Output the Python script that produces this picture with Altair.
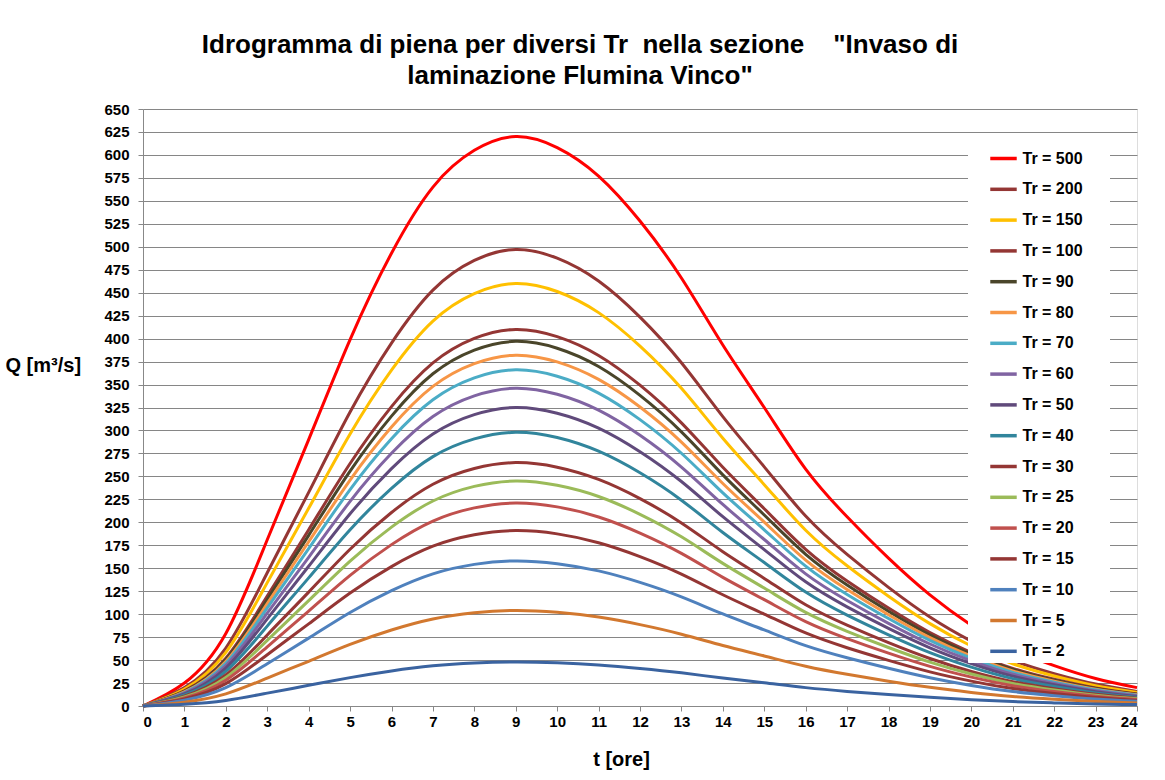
import altair as alt
import pandas as pd

hours = list(range(25))

labels = ["Tr = 500", "Tr = 200", "Tr = 150", "Tr = 100", "Tr = 90", "Tr = 80",
          "Tr = 70", "Tr = 60", "Tr = 50", "Tr = 40", "Tr = 30", "Tr = 25",
          "Tr = 20", "Tr = 15", "Tr = 10", "Tr = 5", "Tr = 2"]

colors = ["#FF0000", "#943634", "#FFC000", "#943634", "#4A452A", "#F79646",
          "#4BACC6", "#8064A2", "#604A7B", "#31859C", "#943634", "#9BBB59",
          "#C0504D", "#943634", "#4F81BD", "#D2782F", "#3A63A0"]

q_500 = [0, 25, 79, 181, 290, 399, 493, 565, 605, 620, 608, 577, 528, 466, 393, 325, 258, 206, 161, 121, 88, 62, 44, 30, 20]
q_200 = [0, 20.0, 63.1, 145.1, 232.6, 320.1, 395.1, 452.8, 485.1, 497, 487.6, 462.7, 423.4, 373.7, 315.1, 260.4, 206.8, 165.0, 129.2, 96.9, 70.6, 49.7, 35.3, 23.9, 15.9]
q_150 = [0, 18.5, 58.4, 134.3, 215.3, 296.2, 365.7, 419.1, 449.0, 460, 451.3, 428.3, 391.9, 345.9, 291.6, 241.0, 191.4, 152.7, 119.6, 89.7, 65.3, 46.0, 32.7, 22.1, 14.7]
q_100 = [0, 16.5, 52.1, 119.7, 191.9, 264.0, 326.0, 373.5, 400.2, 410, 402.2, 381.7, 349.3, 308.3, 259.9, 214.8, 170.6, 136.1, 106.6, 80.0, 58.2, 41.0, 29.1, 19.7, 13.1]
q_90 = [0, 16.0, 50.4, 115.9, 185.8, 255.7, 315.6, 361.7, 387.5, 397, 389.5, 369.6, 338.2, 298.5, 251.7, 208.0, 165.2, 131.8, 103.2, 77.4, 56.4, 39.7, 28.2, 19.1, 12.7]
q_80 = [0, 15.4, 48.5, 111.5, 178.8, 246.0, 303.7, 348.0, 372.8, 382, 374.7, 355.6, 325.5, 287.3, 242.2, 200.2, 158.9, 126.8, 99.3, 74.5, 54.2, 38.2, 27.1, 18.3, 12.2]
q_70 = [0, 14.7, 46.5, 106.9, 171.3, 235.7, 291.0, 333.4, 357.2, 366, 359.0, 340.7, 311.8, 275.2, 232.0, 191.8, 152.3, 121.5, 95.2, 71.4, 52.0, 36.6, 26.0, 17.6, 11.7]
q_60 = [0, 13.9, 43.9, 101.0, 161.9, 222.8, 275.1, 315.2, 337.7, 346, 339.4, 322.1, 294.8, 260.2, 219.4, 181.3, 143.9, 114.9, 90.0, 67.5, 49.1, 34.6, 24.6, 16.6, 11.1]
q_50 = [0, 13.1, 41.3, 94.9, 152.1, 209.3, 258.4, 296.1, 317.2, 325, 318.8, 302.6, 276.9, 244.4, 206.1, 170.3, 135.2, 107.9, 84.5, 63.4, 46.2, 32.5, 23.1, 15.6, 10.4]
q_40 = [0, 12.0, 37.8, 87.0, 139.5, 191.9, 236.9, 271.5, 290.8, 298, 292.3, 277.4, 253.9, 224.1, 188.9, 156.2, 124.0, 98.9, 77.5, 58.1, 42.3, 29.8, 21.2, 14.3, 9.5]
q_30 = [0, 10.7, 33.7, 77.4, 124.0, 170.7, 210.7, 241.4, 258.6, 265, 260.0, 246.7, 225.8, 199.3, 168.0, 138.9, 110.2, 88.0, 68.9, 51.7, 37.6, 26.5, 18.8, 12.7, 8.5]
q_25 = [0, 9.9, 31.1, 71.5, 114.7, 157.8, 194.8, 223.2, 239.1, 245, 240.3, 228.1, 208.7, 184.2, 155.3, 128.4, 101.9, 81.3, 63.7, 47.8, 34.8, 24.5, 17.4, 11.8, 7.8]
q_20 = [0, 8.9, 28.1, 64.5, 103.4, 142.3, 175.7, 201.3, 215.7, 221, 216.8, 205.8, 188.3, 166.2, 140.1, 115.8, 91.9, 73.4, 57.5, 43.1, 31.4, 22.1, 15.7, 10.6, 7.1]
q_15 = [0, 7.7, 24.3, 55.8, 89.4, 123.0, 151.8, 174.0, 186.4, 191, 187.4, 177.8, 162.7, 143.6, 121.1, 100.1, 79.5, 63.4, 49.7, 37.2, 27.1, 19.1, 13.6, 9.2, 6.1]
q_10 = [0, 6.4, 20.1, 46.1, 73.9, 101.8, 125.6, 143.9, 154.2, 158, 155.0, 147.1, 134.6, 118.8, 100.2, 82.8, 65.7, 52.5, 41.1, 30.8, 22.4, 15.8, 11.2, 7.6, 5.1]
q_5 = [0, 4.2, 13.2, 30.4, 48.7, 67.0, 82.7, 94.7, 101.5, 104, 102.0, 96.8, 88.6, 78.2, 65.9, 54.5, 43.3, 34.5, 27.0, 20.3, 14.8, 10.4, 7.4, 5.0, 3.3]
q_2 = [0, 1.9, 6.1, 14.0, 22.5, 30.9, 38.2, 43.7, 46.8, 48, 47.1, 44.7, 40.9, 36.1, 30.4, 25.2, 20.0, 15.9, 12.5, 9.4, 6.8, 4.8, 3.4, 2.3, 1.5]

series = [q_500, q_200, q_150, q_100, q_90, q_80, q_70, q_60, q_50, q_40,
          q_30, q_25, q_20, q_15, q_10, q_5, q_2]

rows = []
for k, (lab, vals) in enumerate(zip(labels, series)):
    for t, q in zip(hours, vals):
        rows.append({"serie": lab, "t": t, "Q": q, "ord": k})
df = pd.DataFrame(rows)

FONT = "Liberation Sans"
NB = "\u00a0"

title_lines = [
    "Idrogramma di piena per diversi Tr" + NB * 2 + "nella sezione" + NB * 4 + "\"Invaso di",
    "laminazione Flumina Vinco\"",
]

chart = alt.Chart(df).mark_line(interpolate="natural", strokeWidth=3).encode(
    x=alt.X("t:Q",
            scale=alt.Scale(domain=[0, 24], nice=False, zero=False),
            axis=alt.Axis(values=hours, title="t [ore]", grid=False,
                          labelFontSize=15, labelFontWeight="bold", labelFont=FONT,
                          labelColor="black", labelPadding=3, tickSize=5,
                          titleFontSize=20, titleFontWeight="bold", titleFont=FONT,
                          titleColor="black", titlePadding=20, titleX=478)),
    y=alt.Y("Q:Q",
            scale=alt.Scale(domain=[0, 650], nice=False),
            axis=alt.Axis(values=list(range(0, 651, 25)), title="Q [m³/s]",
                          grid=True, gridColor="#868686", gridWidth=1,
                          labelFontSize=15, labelFontWeight="bold", labelFont=FONT,
                          labelColor="black", labelPadding=9, tickSize=5,
                          titleAngle=0, titleAlign="left", titleBaseline="middle",
                          titleX=-138, titleY=256,
                          titleFontSize=20, titleFontWeight="bold", titleFont=FONT,
                          titleColor="black")),
    color=alt.Color("serie:N",
                    scale=alt.Scale(domain=labels, range=colors),
                    legend=alt.Legend(title=NB, titleOrient="right", titlePadding=24,
                                      titleFontSize=8,
                                      orient="none", legendX=825, legendY=32,
                                      fillColor="#FFFFFF", strokeColor="#FFFFFF",
                                      zindex=5, padding=2.5,
                                      symbolType="stroke", symbolSize=700,
                                      symbolStrokeWidth=3.5, symbolOffset=18,
                                      rowPadding=7.8,
                                      labelFontSize=16, labelFontWeight="bold",
                                      labelFont=FONT, labelColor="black", labelOffset=4)),
    order=alt.Order("ord:Q", sort="descending"),
).properties(
    width=994,
    height=597,
    autosize=alt.AutoSizeParams(type="none"),
    padding={"left": 143, "top": 109, "right": 28, "bottom": 74},
    title=alt.TitleParams(
        text=title_lines,
        font=FONT, fontSize=26, fontWeight="bold", color="black",
        anchor="middle", dx=-60, offset=13, lineHeight=31),
).configure_view(
    fill="#A6A6A6", strokeWidth=0
).configure_axis(
    domainColor="#868686", tickColor="#868686", domainWidth=1
).configure(background="white")

chart.save("out.html", embed_options={"renderer": "svg", "actions": False})
